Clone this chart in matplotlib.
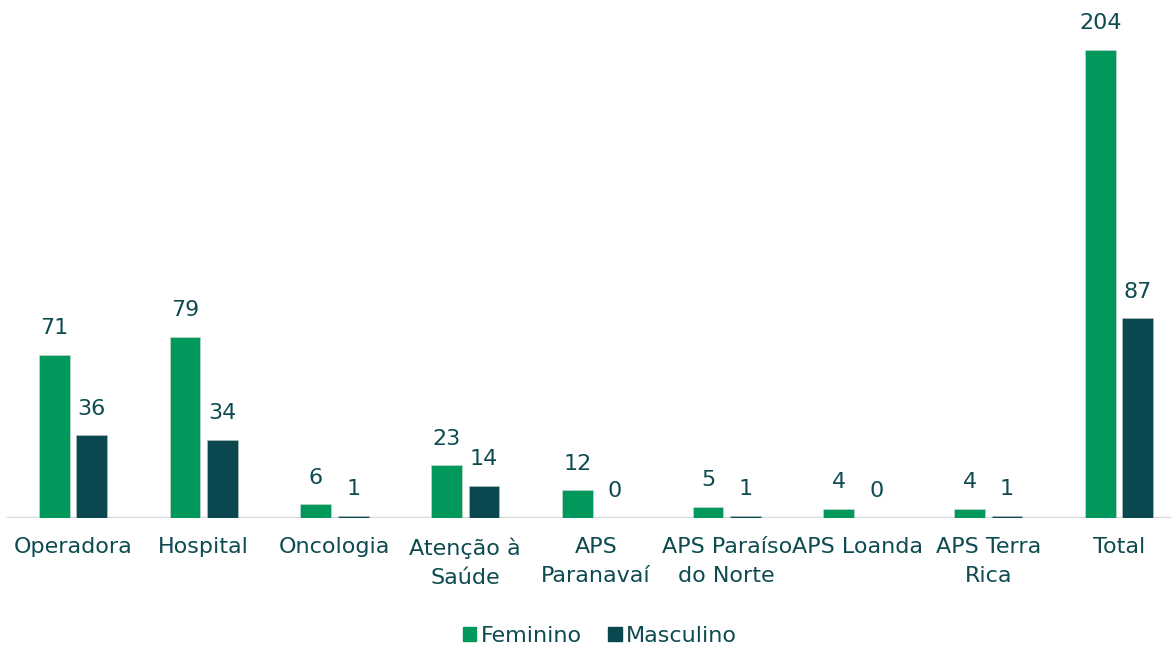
import numpy as np
import matplotlib
matplotlib.use("Agg")
import matplotlib.pyplot as plt
import matplotlib.patches as mpatches

categories = ["Operadora", "Hospital", "Oncologia", "Atenção à\nSaúde", "APS\nParanavaí",
              "APS Paraíso\ndo Norte", "APS Loanda", "APS Terra\nRica", "Total"]
feminino = [71, 79, 6, 23, 12, 5, 4, 4, 204]
masculino = [36, 34, 1, 14, 0, 1, 0, 1, 87]

green = "#00995B"
dark = "#0A474F"
txt = "#0D4B50"

plt.rcParams['font.family'] = ['DejaVu Sans']

fig = plt.figure(figsize=(11.71, 6.47), dpi=100)
ax = fig.add_axes([0, 0.1994, 1, 0.8006])

x = np.arange(len(categories))
bw = 0.235
off = 0.143
ax.bar(x - off, feminino, width=bw, color=green, edgecolor="#cfd8d6", linewidth=0.4)
ax.bar(x + off, masculino, width=bw, color=dark, edgecolor="#b9c4c4", linewidth=0.4)

for i in range(len(categories)):
	ax.annotate(str(feminino[i]), (x[i] - off, feminino[i]), xytext=(0, 12), textcoords="offset points",
				ha="center", va="bottom", fontsize=16, color=txt)
	ax.annotate(str(masculino[i]), (x[i] + off, masculino[i]), xytext=(0, 12), textcoords="offset points",
				ha="center", va="bottom", fontsize=16, color=txt)

ax.set_xlim(-0.558, 8.398)
ax.set_ylim(0, 225.8)
ax.axhline(0, xmin=(-0.5 + 0.558) / (8.398 + 0.558), xmax=1, color="#d9d9d9", linewidth=2.5, zorder=0)

ax.set_xticks(x)
ax.set_xticklabels(categories, fontsize=16, color=txt, linespacing=1.55)
ax.tick_params(axis="x", length=0, pad=14)
ax.set_yticks([])
for s in ax.spines.values():
	s.set_visible(False)

fem_patch = mpatches.Patch(color=green, label="Feminino")
masc_patch = mpatches.Patch(color=dark, label="Masculino")
leg = fig.legend(handles=[fem_patch, masc_patch], loc="center", ncol=2,
				 frameon=False, fontsize=16, handlelength=0.6, handleheight=0.6, handletextpad=0.2,
				 columnspacing=1.2)
for t in leg.get_texts():
	t.set_color(txt)
leg.set_bbox_to_anchor((600 / 1171, 1 - 636 / 647), transform=fig.transFigure)

fig.savefig("out.png", dpi=100)
